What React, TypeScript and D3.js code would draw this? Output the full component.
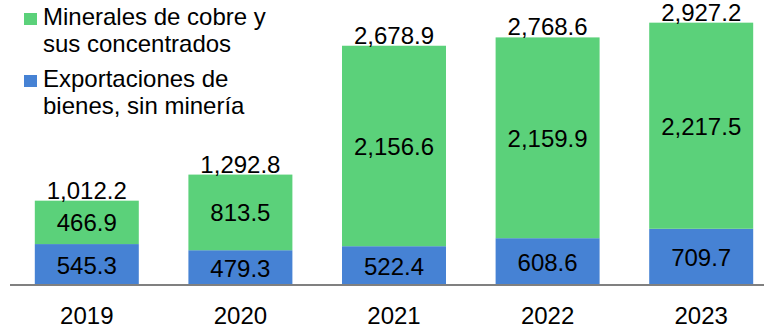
import React from "react";
import * as d3 from "d3";

const years = ["2019", "2020", "2021", "2022", "2023"];
const nonMining = [545.3, 479.3, 522.4, 608.6, 709.7];
const copper = [466.9, 813.5, 2156.6, 2159.9, 2217.5];
const totals = [1012.2, 1292.8, 2678.9, 2768.6, 2927.2];

const seriesNames = ["Minerales de cobre y|sus concentrados", "Exportaciones de|bienes, sin minería"];
const GREEN = "#5bd17a";
const BLUE = "#4682d4";

const W = 764;
const H = 328;
const FONT = "'Liberation Sans', Arial, sans-serif";

export default function App() {
  const x = d3.scaleBand<string>().domain(years).range([10, 778]).paddingInner(0.323).paddingOuter(0.1615);
  const y = d3.scaleLinear().domain([105, 3171]).range([285, 0]);
  const fmt = d3.format(",.1f");

  const rows = years.map((yr, i) => ({ yr, a: nonMining[i], b: copper[i], t: totals[i] }));

  return (
    <svg width={W} height={H} style={{ position: "absolute", left: 0, top: 0, fontFamily: FONT }}>
      <rect x={0} y={0} width={W} height={H} fill="#fff" />
      {rows.map((r) => {
        const x0 = x(r.yr)!;
        const bw = x.bandwidth();
        const cx = x0 + bw / 2;
        const yA = y(r.a + 105);
        const yT = y(r.a + r.b + 105);
        const yBase = y(105);
        // blue segment from base to a (offset scale: value 0 at domain min)
        return (
          <g key={r.yr}>
            <rect x={x0} y={y(r.a)} width={bw} height={yBase - y(r.a)} fill={BLUE} />
            <rect x={x0} y={y(r.t)} width={bw} height={y(r.a) - y(r.t)} fill={GREEN} />
            <text x={cx} y={(y(r.a) + yBase) / 2 + 9} textAnchor="middle" fontSize={24} fill="#000">{fmt(r.a)}</text>
            <text x={cx} y={(y(r.t) + y(r.a)) / 2 + 9} textAnchor="middle" fontSize={24} fill="#000">{fmt(r.b)}</text>
            <text x={cx} y={y(r.t) - 2} textAnchor="middle" fontSize={24} fill="#000">{fmt(r.t)}</text>
            <text x={cx} y={324} textAnchor="middle" fontSize={24} fill="#000">{r.yr}</text>
          </g>
        );
      })}
      <line x1={10} x2={W} y1={285} y2={285} stroke="#808080" strokeWidth={2} />
      {seriesNames.map((name, i) => {
        const lines = name.split("|");
        const top = i * 62;
        return (
          <g key={name}>
            <rect x={24} y={top + 13} width={13} height={12} fill={i === 0 ? GREEN : BLUE} />
            {lines.map((l, j) => (
              <text key={j} x={43} y={top + 25 + j * 27} fontSize={24} fill="#000">{l}</text>
            ))}
          </g>
        );
      })}
    </svg>
  );
}
